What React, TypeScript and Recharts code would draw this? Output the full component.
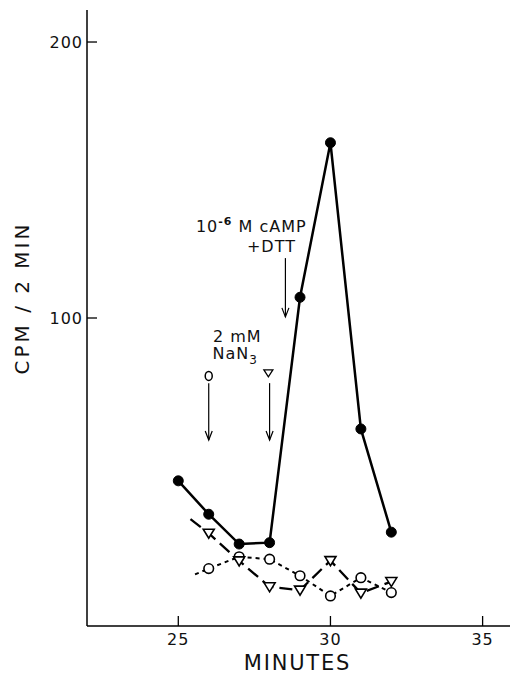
import React from "react"
import { LineChart, Line, XAxis, YAxis, ReferenceLine, ReferenceDot } from "recharts"

// minutes at which samples were counted
const minutes = [25, 26, 27, 28, 29, 30, 31, 32]
// cAMP + DTT added (filled circles)
const campCounts = [41, 28.9, 18.1, 18.6, 107.5, 163.5, 59.8, 22.4]
// control (open circles), dashed line starts a bit before the first sample
const controlMinutes = [25.55, 26, 27, 28, 29, 30, 31, 32]
const controlCounts = [7.1, 9.2, 13.5, 12.6, 6.6, -0.7, 5.9, 0.5]
// NaN3 (open triangles)
const azideMinutes = [25.4, 26, 27, 28, 29, 30, 31, 32]
const azideCounts = [27.1, 22.0, 12.0, 2.6, 1.4, 12.1, 0.3, 4.5]

const xTicks = [25, 30, 35]
const yTicks = [100, 200]

const FONT = "DejaVu Sans"

const campData = minutes.map((x, i) => ({ x, y: campCounts[i] }))
const controlData = controlMinutes.map((x, i) => ({ x, y: controlCounts[i] }))
const azideData = azideMinutes.map((x, i) => ({ x, y: azideCounts[i] }))

const XTick = (props: any) => {
  const { x, y, payload } = props
  return (
    <g>
      <line x1={x} y1={y} x2={x} y2={y - 10} stroke="#000" strokeWidth={1.3} />
      <text x={x} y={y + 19} textAnchor="middle" fontFamily={FONT} fontSize={16} letterSpacing={1} fill="#111">
        {payload.value}
      </text>
    </g>
  )
}

const YTick = (props: any) => {
  const { x, y, payload } = props
  return (
    <g>
      <line x1={x} y1={y} x2={x + 10} y2={y} stroke="#000" strokeWidth={1.3} />
      <text x={x - 4} y={y + 6} textAnchor="end" fontFamily={FONT} fontSize={16} letterSpacing={1} fill="#111">
        {payload.value}
      </text>
    </g>
  )
}

const OpenCircle = (props: any) => {
  const { cx, cy, index } = props
  if (index === 0 || cx == null) return <g key={`c${index}`} />
  return <circle key={`c${index}`} cx={cx} cy={cy} r={4.8} fill="#fff" stroke="#000" strokeWidth={1.6} />
}

const OpenTriangle = (props: any) => {
  const { cx, cy, index } = props
  if (index === 0 || cx == null) return <g key={`t${index}`} />
  return (
    <path
      key={`t${index}`}
      d={`M${cx - 5.5},${cy - 4} L${cx + 5.5},${cy - 4} L${cx},${cy + 5} Z`}
      fill="#fff"
      stroke="#000"
      strokeWidth={1.6}
    />
  )
}

// downward arrow drawn along a vertical reference segment
const Arrow = (props: any) => {
  const { x1, y1, x2, y2 } = props
  const top = Math.min(y1, y2)
  const bot = Math.max(y1, y2)
  return (
    <g>
      <line x1={x1} y1={top} x2={x2} y2={bot} stroke="#000" strokeWidth={1.2} />
      <path d={`M${x2 - 3.5},${bot - 9} L${x2},${bot} L${x2 + 3.5},${bot - 9}`} fill="none" stroke="#000" strokeWidth={1.2} />
    </g>
  )
}

const textShape = (content: React.ReactNode, size = 16) => (props: any) => (
  <text x={props.cx} y={props.cy} textAnchor="middle" fontFamily={FONT} fontSize={size} letterSpacing={1} fill="#111">
    {content}
  </text>
)

const circleMark = (props: any) => (
  <ellipse cx={props.cx} cy={props.cy} rx={3.5} ry={4.5} fill="none" stroke="#000" strokeWidth={1.5} />
)

const triangleMark = (props: any) => {
  const { cx, cy } = props
  return <path d={`M${cx - 4.5},${cy - 3} L${cx + 4.5},${cy - 3} L${cx},${cy + 4} Z`} fill="#fff" stroke="#000" strokeWidth={1.3} />
}

export default function App() {
  return (
    <div style={{ position: "absolute", left: 0, top: 0, width: 511, height: 675, background: "#fff" }}>
      <LineChart width={511} height={675} margin={{ top: 10, right: 1, bottom: 0, left: 0 }}>
        <XAxis
          type="number"
          dataKey="x"
          domain={[22, 35.9]}
          ticks={xTicks}
          allowDataOverflow
          height={49}
          tickSize={0}
          tickMargin={0}
          tickLine={false}
          tick={<XTick />}
          axisLine={{ stroke: "#000", strokeWidth: 1.5 }}
          label={{
            content: (p: any) => (
              <text
                x={p.viewBox.x + p.viewBox.width / 2 - 1}
                y={p.viewBox.y + 44}
                textAnchor="middle"
                fontFamily={FONT}
                fontSize={21}
                letterSpacing={1.8}
                fill="#111"
              >
                MINUTES
              </text>
            ),
          }}
        />
        <YAxis
          type="number"
          dataKey="y"
          domain={[-11.6, 211.6]}
          ticks={yTicks}
          allowDataOverflow
          width={87}
          tickSize={0}
          tickMargin={0}
          tickLine={false}
          tick={<YTick />}
          axisLine={{ stroke: "#000", strokeWidth: 1.5 }}
          label={{
            content: (p: any) => {
              const cx = p.viewBox.x + 22
              const cy = p.viewBox.y + p.viewBox.height / 2 - 20
              return (
                <text
                  x={cx}
                  y={cy}
                  transform={`rotate(-90 ${cx} ${cy})`}
                  textAnchor="middle"
                  dominantBaseline="central"
                  fontFamily={FONT}
                  fontSize={20}
                  letterSpacing={3}
                  fill="#111"
                >
                  CPM / 2 MIN
                </text>
              )
            },
          }}
        />

        <Line
          data={controlData}
          dataKey="y"
          stroke="#000"
          strokeWidth={2}
          strokeDasharray="4 4"
          dot={OpenCircle}
          activeDot={false}
          isAnimationActive={false}
        />
        <Line
          data={azideData}
          dataKey="y"
          stroke="#000"
          strokeWidth={2.3}
          strokeDasharray="13 6"
          dot={OpenTriangle}
          activeDot={false}
          isAnimationActive={false}
        />
        <Line
          data={campData}
          dataKey="y"
          stroke="#000"
          strokeWidth={2.5}
          dot={{ r: 5, fill: "#000", stroke: "#000", strokeWidth: 1 }}
          activeDot={false}
          isAnimationActive={false}
        />

        {/* additions */}
        <ReferenceLine segment={[{ x: 26, y: 76.4 }, { x: 26, y: 55.8 }]} shape={Arrow} />
        <ReferenceLine segment={[{ x: 28, y: 76.4 }, { x: 28, y: 55.8 }]} shape={Arrow} />
        <ReferenceLine segment={[{ x: 28.52, y: 121.7 }, { x: 28.52, y: 100.4 }]} shape={Arrow} />

        <ReferenceDot x={26} y={79} shape={circleMark} />
        <ReferenceDot x={27.96} y={80.1} shape={triangleMark} />

        <ReferenceDot x={26.94} y={91.3} shape={textShape("2 mM")} />
        <ReferenceDot
          x={26.87}
          y={85.1}
          shape={textShape(
            <>
              NaN<tspan fontSize={12} dy={5}>3</tspan>
            </>
          )}
        />
        <ReferenceDot
          x={27.4}
          y={131.2}
          shape={textShape(
            <>
              10<tspan fontSize={11} dy={-7} fontWeight="bold">-6</tspan>
              <tspan dy={7}> M cAMP</tspan>
            </>
          )}
        />
        <ReferenceDot x={28.06} y={123.9} shape={textShape("+DTT")} />
      </LineChart>
    </div>
  )
}
